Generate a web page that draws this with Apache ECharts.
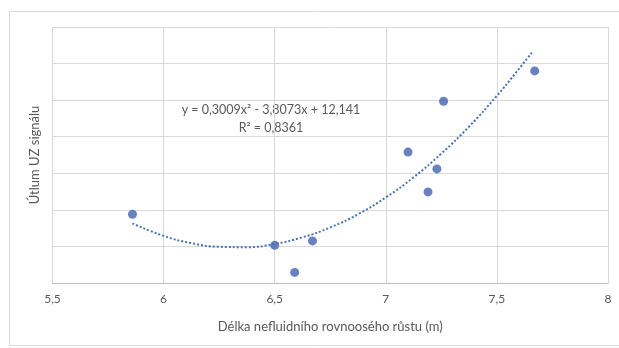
<!DOCTYPE html>
<html>
<head>
<meta charset="utf-8">
<script src="https://cdn.jsdelivr.net/npm/echarts@6/dist/echarts.min.js"></script>
<style>html,body{margin:0;padding:0;background:#fff;}#c{width:619px;height:348px;}</style>
</head>
<body>
<div id="c"></div>
<script>
// Measured points
var lengthX = [5.86, 6.50, 6.59, 6.67, 7.10, 7.19, 7.23, 7.26, 7.67];
var attenuationY = [0.188, 0.103, 0.029, 0.115, 0.358, 0.249, 0.312, 0.497, 0.580];
// Trendline (dotted polynomial curve)
var trendX = [5.86, 6.0, 6.125, 6.25, 6.375, 6.5, 6.625, 6.75, 6.875, 7.0, 7.125, 7.25, 7.375, 7.5, 7.58, 7.66];
var trendY = [0.163, 0.129, 0.109, 0.099, 0.098, 0.107, 0.125, 0.152, 0.188, 0.234, 0.289, 0.354, 0.428, 0.512, 0.571, 0.632];
var xTitle = 'Délka nefluidního rovnoosého růstu (m)';
var yTitle = 'Útlum UZ signálu';
var eqLine1 = 'y = 0,3009x² - 3,8073x + 12,141';
var eqLine2 = 'R² = 0,8361';

var FONT = 'Lato, "Open Sans", sans-serif';
var chart = echarts.init(document.getElementById('c'), null, {renderer: 'canvas'});
chart.setOption({
  animation: false,
  backgroundColor: '#fff',
  grid: {left: 52.5, right: 11, top: 27, bottom: 65},
  xAxis: {
    type: 'value', min: 5.5, max: 8, interval: 0.5,
    name: xTitle, nameLocation: 'middle', nameGap: 37,
    nameTextStyle: {color: '#595959', fontSize: 13, fontFamily: FONT},
    axisLine: {show: true, lineStyle: {color: '#bfbfbf', width: 1}},
    axisTick: {show: false},
    axisLabel: {color: '#595959', fontSize: 12, fontFamily: FONT, margin: 10,
      formatter: function (v) { return String(v).replace('.', ','); }},
    splitLine: {show: true, lineStyle: {color: '#d9d9d9', width: 1}}
  },
  yAxis: {
    type: 'value', min: 0, max: 0.7, interval: 0.1,
    name: yTitle, nameLocation: 'middle', nameGap: 11,
    nameTextStyle: {color: '#595959', fontSize: 13, fontFamily: FONT},
    axisLine: {show: false}, axisTick: {show: false},
    axisLabel: {show: false},
    splitLine: {show: true, lineStyle: {color: '#d9d9d9', width: 1}}
  },
  series: [
    {
      type: 'line', smooth: true, symbol: 'none',
      data: trendX.map(function (x, i) { return [x, trendY[i]]; }),
      lineStyle: {color: '#4472C4', width: 2, type: [2, 2]},
      z: 2
    },
    {
      type: 'scatter', symbol: 'circle', symbolSize: 9,
      data: lengthX.map(function (x, i) { return [x, attenuationY[i]]; }),
      itemStyle: {color: '#4161B3'},
      z: 3
    }
  ],
  graphic: [
    {type: 'rect', shape: {x: 9.5, y: 11.5, width: 620, height: 334},
      style: {fill: 'none', stroke: '#d9d9d9', lineWidth: 1}, silent: true, z: -1},
    {type: 'text', x: 271, y: 110, style: {text: eqLine1, fill: '#595959', font: '12.5px ' + FONT,
      align: 'center', verticalAlign: 'middle'}},
    {type: 'text', x: 271, y: 128, style: {text: eqLine2, fill: '#595959', font: '12.5px ' + FONT,
      align: 'center', verticalAlign: 'middle'}}
  ]
});
</script>
</body>
</html>
